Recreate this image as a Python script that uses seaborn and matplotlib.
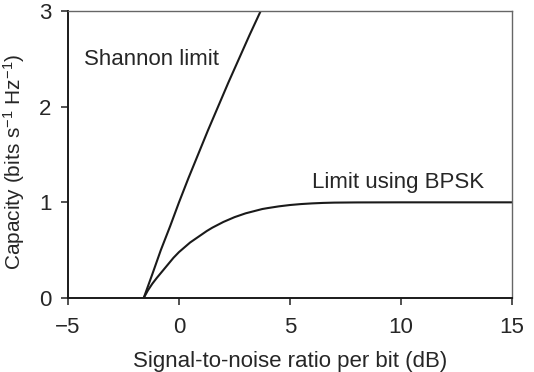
import matplotlib
matplotlib.use("Agg")
import matplotlib.pyplot as plt
import seaborn as sns
import pandas as pd

# values
shannon_snr = [-1.59, -1.2, -0.82, -0.4, 0.0, 0.42, 0.86, 1.3, 1.76, 2.22, 2.70, 3.18, 3.68]
shannon_cap = [0.0, 0.25, 0.5, 0.75, 1.0, 1.25, 1.5, 1.75, 2.0, 2.25, 2.5, 2.75, 3.0]

bpsk_snr = [-1.59, -1.4, -1.2, -1.0, -0.75, -0.5, -0.25, 0.0, 0.25, 0.5, 0.75, 1.0, 1.25, 1.5,
            1.75, 2.0, 2.25, 2.5, 2.75, 3.0, 3.25, 3.5, 3.75, 4.0, 4.5, 5.0, 5.5, 6.0, 6.5,
            7.0, 8.0, 10.0, 15.0]
bpsk_cap = [0.0, 0.08, 0.15, 0.21, 0.28, 0.35, 0.42, 0.48, 0.53, 0.58, 0.62, 0.66, 0.70, 0.735,
            0.765, 0.795, 0.82, 0.845, 0.865, 0.885, 0.90, 0.915, 0.93, 0.94, 0.958, 0.972, 0.982,
            0.989, 0.994, 0.997, 0.999, 1.0, 1.0]

sns.set_style("ticks")
plt.rcParams['font.family'] = ['Liberation Sans', 'DejaVu Sans']
plt.rcParams['mathtext.fontset'] = 'custom'
plt.rcParams['mathtext.rm'] = 'Liberation Sans'
plt.rcParams['mathtext.it'] = 'Liberation Sans'
plt.rcParams['mathtext.default'] = 'regular'

fig = plt.figure(figsize=(5.34, 3.72), dpi=100)
ax = fig.add_axes([68 / 534, 1 - 298 / 372, 444 / 534, 287 / 372])

df_s = pd.DataFrame({"snr": shannon_snr, "cap": shannon_cap})
df_b = pd.DataFrame({"snr": bpsk_snr, "cap": bpsk_cap})
sns.lineplot(data=df_s, x="snr", y="cap", ax=ax, color="#1a1a1a", lw=1.5, sort=False)
sns.lineplot(data=df_b, x="snr", y="cap", ax=ax, color="#1a1a1a", lw=1.5, sort=False)

ax.set_xlim(-5, 15)
ax.set_ylim(0, 3)
ax.set_xticks([-5, 0, 5, 10, 15])
ax.set_xticklabels(["\u22125", "0", "5", "10", "15"])
ax.set_yticks([0, 1, 2, 3])

fs = 16
ax.set_xlabel("Signal-to-noise ratio per bit (dB)", fontsize=fs, labelpad=9)
ax.set_ylabel("Capacity (bits s$^{\u22121}$ Hz$^{\u22121}$)", fontsize=15)
ax.yaxis.set_label_coords(-0.092, 0.475)
ax.tick_params(axis="x", labelsize=fs, length=5, width=1.2, color="#333333", pad=9)
ax.tick_params(axis="y", labelsize=fs, length=5, width=1.2, color="#333333", pad=7)

for s in ["left", "bottom"]:
    ax.spines[s].set_linewidth(1.4)
    ax.spines[s].set_color("#1a1a1a")
for s in ["top", "right"]:
    ax.spines[s].set_linewidth(1.0)
    ax.spines[s].set_color("#666666")

ax.text(-4.28, 2.49, "Shannon limit", fontsize=fs, va="center", ha="left")
ax.text(5.99, 1.21, "Limit using BPSK", fontsize=fs, va="center", ha="left")

fig.savefig("out.png", dpi=100)
